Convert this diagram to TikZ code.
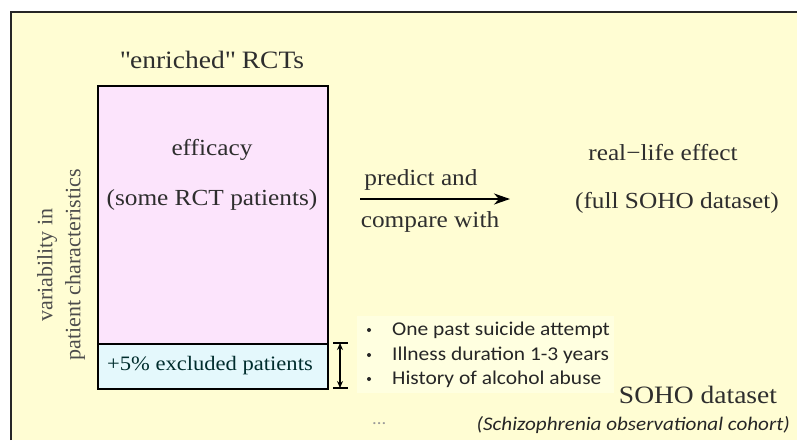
\documentclass[tikz,border=0pt]{standalone}
\usepackage{fontspec}
\setmainfont{Liberation Serif}[FakeStretch=1.1]
\newfontfamily\serifns{Liberation Serif}
\newfontfamily\calibri{Carlito}[FakeStretch=1.1]
\usetikzlibrary{arrows.meta}
\definecolor{bgyellow}{HTML}{FFFDD3}
\definecolor{pinkfill}{HTML}{FCE4FC}
\definecolor{bluefill}{HTML}{E4F8FC}
\definecolor{txtgray}{HTML}{2E2E2E}
\definecolor{listbg}{HTML}{FFFFE0}
\tikzset{
  serif/.style={text=txtgray, font=\fontsize{23}{26}\selectfont, inner sep=0pt},
  boxstyle/.style={draw=black, line width=2.2pt, anchor=north west, inner sep=0pt},
  listtxt/.style={anchor=west, inner sep=0pt, font=\calibri\fontsize{19.5}{22}\selectfont, text=black!85},
}
\begin{document}
\begin{tikzpicture}[x=1pt,y=-1pt]
\useasboundingbox (0,0) rectangle (797,440);
\fill[white] (0,0) rectangle (797,440);
\fill[bgyellow] (11,12) rectangle (797,440);
\draw[line width=2.6pt, black!85] (11,440) -- (11,12) -- (797,12);
% list background
\fill[listbg] (357,316) rectangle (614,393);
% title
\node[serif, font=\fontsize{25}{28}\selectfont] (title) at (212,60) {\textquotedbl enriched\textquotedbl{} RCTs};
% boxes
\node[boxstyle, fill=pinkfill, minimum width=230pt, minimum height=258pt] (rct) at (97,85) {};
\node[boxstyle, fill=bluefill, minimum width=230pt, minimum height=45pt] (excl) at (97,343) {};
\node[serif] (eff) at (212,150) {efficacy};
\node[serif] (some) at (212,200) {(some RCT patients)};
\node[serif, font=\fontsize{20.5}{24}\selectfont, text=black!65!teal] (exclt) at (210,366) {+5\% excluded patients};
% vertical label
\node[serif, text=black!70, font=\serifns\fontsize{22}{28}\selectfont, rotate=90, align=center] (var) at (61,265) {variability in\\patient characteristics};
% arrow
\coordinate (a1) at (360,199);
\coordinate (a2) at (510,199);
\draw[line width=2.2pt, -{Stealth[length=16pt,width=11pt,inset=5pt]}] (a1) -- (a2);
\node[serif] (pred) at (421,180) {predict and};
\node[serif] (comp) at (430,222) {compare with};
% right side
\node[serif] (real) at (663,153) {real−life effect};
\node[serif] (full) at (677,203) {(full SOHO dataset)};
% double arrow
\coordinate (b1) at (340,343);
\coordinate (b2) at (340,388);
\draw[line width=1.6pt] (333,343) -- (348,343) (333,388) -- (348,388);
\draw[line width=1.2pt, {Stealth[length=7pt,width=6pt]}-{Stealth[length=7pt,width=6pt]}] (b1) -- (b2);
% bullet list
\node[listtxt] (l1) at (392,330) {One past suicide attempt};
\node[listtxt] (l2) at (392,355) {Illness duration 1-3 years};
\node[listtxt] (l3) at (392,379) {History of alcohol abuse};
\foreach \y in {330,355,379} \fill[black!85] (369,\y) circle (2pt);
\node[listtxt, text=black!40, font=\calibri\fontsize{17}{20}\selectfont] (dots) at (372,424) {...};
% SOHO
\node[serif, font=\fontsize{25}{28}\selectfont] (soho) at (698,395) {SOHO dataset};
\node[listtxt, anchor=east, font=\calibri\itshape\fontsize{19.2}{22}\selectfont] (coh) at (790,425) {(Schizophrenia observational cohort)};
\end{tikzpicture}
\end{document}
